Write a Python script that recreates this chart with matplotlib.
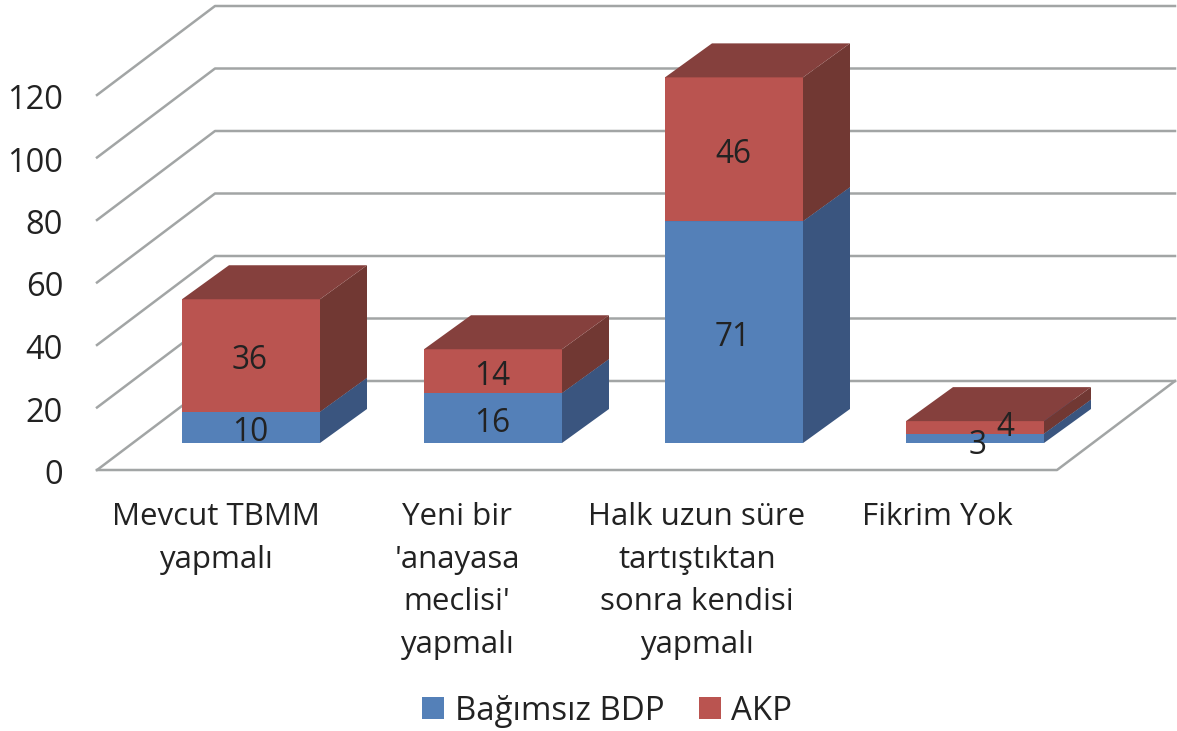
import matplotlib
matplotlib.use('Agg')
import matplotlib.pyplot as plt
from matplotlib.patches import Polygon, Rectangle

plt.rcParams['font.family'] = ['Open Sans', 'DejaVu Sans']

categories = ["Mevcut TBMM\nyapmalı", "Yeni bir\n'anayasa\nmeclisi'\nyapmalı",
              "Halk uzun süre\ntartıştıktan\nsonra kendisi\nyapmalı", "Fikrim Yok"]
bdp = [10, 16, 71, 3]
akp = [36, 14, 46, 4]
ticks = [0, 20, 40, 60, 80, 100, 120]
series_names = ['Bağımsız BDP', 'AKP']

# pseudo-3d layout, in image pixels
W, H = 1177, 731
unit = 3.125
axis_x, axis_y = 97, 470
wall_dx, wall_dy = 118, -89
floor_right = 1057
bar_y = 443
bar_w = 138
bar_x = [182, 424, 665, 906]
depth_x, depth_y = 47, -34
fs = 23.5

blue = ('#5480B8', '#3A557F', '#3F5F8C')
red = ('#BA5450', '#713833', '#85403D')

fig = plt.figure(figsize=(W / 100, H / 100), dpi=100)
ax = fig.add_axes([0, 0, 1, 1])
ax.set_xlim(0, W)
ax.set_ylim(H, 0)
ax.axis('off')

grid = '#A2A5A5'
for t in ticks:
    y = axis_y - t * unit
    ax.plot([axis_x, axis_x + wall_dx, floor_right + wall_dx],
            [y, y + wall_dy, y + wall_dy], color=grid, lw=1.8, zorder=1)
    ax.text(63, y + 5.5, str(t), ha='right', va='center', fontsize=fs, color='#222222')

# floor edges
ax.plot([axis_x, floor_right, floor_right + wall_dx],
        [axis_y, axis_y, axis_y + wall_dy], color=grid, lw=1.8, zorder=1)


def box(x, y0, y1, cols, z):
    ax.add_patch(Rectangle((x, y1), bar_w, y0 - y1, fc=cols[0], ec='none', zorder=z))
    ax.add_patch(Polygon([(x + bar_w, y0), (x + bar_w + depth_x, y0 + depth_y),
                          (x + bar_w + depth_x, y1 + depth_y), (x + bar_w, y1)],
                         fc=cols[1], ec='none', zorder=z))
    ax.add_patch(Polygon([(x, y1), (x + depth_x, y1 + depth_y),
                          (x + bar_w + depth_x, y1 + depth_y), (x + bar_w, y1)],
                         fc=cols[2], ec='none', zorder=z))


for i, x in enumerate(bar_x):
    y_mid = bar_y - bdp[i] * unit
    y_top = y_mid - akp[i] * unit
    box(x, bar_y, y_mid, blue, 2)
    box(x, y_mid, y_top, red, 3)
    cx = x + bar_w / 2
    ax.text(cx + (3 if i == 3 else -1), (bar_y + y_mid) / 2 + (5 if i < 3 else 7), str(bdp[i]),
            ha='center', va='center', fontsize=fs - 0.7, color='#222222', zorder=5)
    ax.text(cx + (30 if i == 3 else -1), (y_mid + y_top) / 2 + (5 if i < 3 else 0), str(akp[i]),
            ha='center', va='center', fontsize=fs - 0.7, color='#222222', zorder=5)

label_x = [216, 457, 697, 937]
for lx, c in zip(label_x, categories):
    ax.text(lx, 502, c, ha='center', va='top', fontsize=fs - 1, color='#222222',
            linespacing=1.55)

# legend
for sx, tx, col, name in zip([422, 699], [455, 731], [blue[0], red[0]], series_names):
    ax.add_patch(Rectangle((sx, 697), 22, 22, fc=col, ec='none'))
    ax.text(tx, 711, name, ha='left', va='center', fontsize=fs + 0.3, color='#222222')

fig.savefig('out.png', dpi=100)
